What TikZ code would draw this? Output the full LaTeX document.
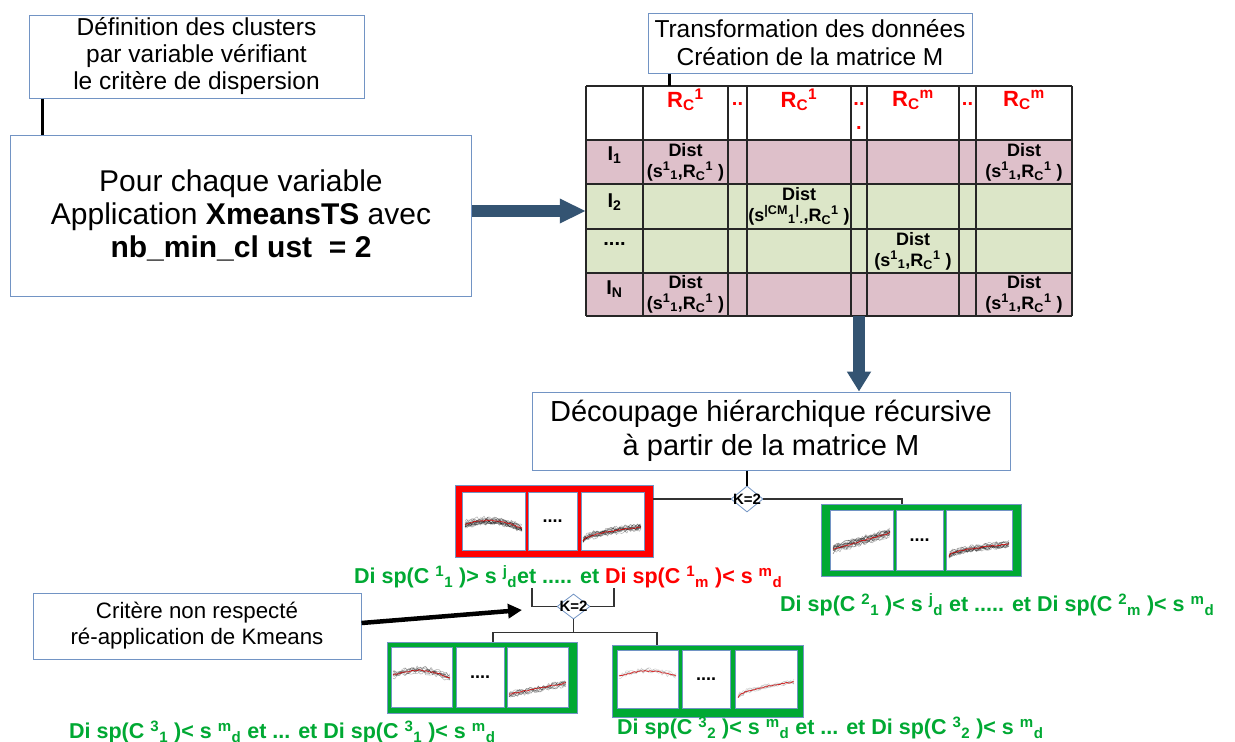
\documentclass[tikz,border=0pt]{standalone}
\usepackage{fontspec}
\setmainfont{Liberation Sans}
\usetikzlibrary{arrows.meta,shapes.geometric}

\definecolor{frameblue}{RGB}{114,148,196}
\definecolor{arrowblue}{RGB}{52,84,114}
\definecolor{rowpink}{RGB}{222,192,202}
\definecolor{rowgreen}{RGB}{220,230,200}
\definecolor{clgreen}{RGB}{0,169,51}
\definecolor{clred}{RGB}{255,0,0}

\newcommand\fs[2]{\fontsize{#1}{#2}\selectfont}
\newcommand\up[1]{\textsuperscript{#1}}
\newcommand\dn[1]{\textsubscript{#1}}

% a bundle of noisy series with its mean curve, clipped to one panel
% #1 panel, #2 left, #3 width, #4 base y, #5 profile of \x, #6 count, #7 spread, #8 trace style
\newcommand\tsbundle[8]{%
  \begin{scope}
    \clip (#1.south west) rectangle (#1.north east);
    \foreach \k in {1,...,#6}{%
      \pgfmathsetmacro\tsoff{#7*rand}%
      \draw[#8] plot[domain=0:1,samples=34] ({#2+#3*\x},{#4-(#5)+\tsoff+2*rand});
    }
    \draw[tsmean] plot[domain=0:1,samples=34] ({#2+#3*\x},{#4-(#5)+0.6*rand});
  \end{scope}}

\tikzset{
  textbox/.style={draw=frameblue, line width=1pt, fill=white, align=center, inner sep=0pt, text=black},
  link/.style={draw=black, line width=2.6pt},
  thinlink/.style={draw=black!80, line width=1.3pt},
  rightflow/.style={draw=arrowblue, line width=12pt, -{Triangle[length=26pt,width=23pt]}},
  downflow/.style={draw=arrowblue, line width=12pt, -{Triangle[length=20pt,width=23pt]}},
  blackflow/.style={draw=black, line width=4.5pt, -{Triangle[length=14pt,width=14pt]}},
  grid/.style={draw=black!85, line width=1.2pt},
  hdr/.style={font=\bfseries\fs{22}{22}, text=clred, inner sep=0pt},
  hdots/.style={font=\bfseries\fs{20}{24}, text=clred, inner sep=0pt, align=center},
  rowlbl/.style={font=\bfseries\fs{20}{20}, inner sep=0pt},
  cell/.style={font=\bfseries\fs{18}{21}, inner sep=0pt, align=center},
  kdia/.style={diamond, draw=frameblue, fill=white, line width=0.8pt, minimum width=32pt, minimum height=26pt, inner sep=0pt},
  klabel/.style={font=\bfseries\fs{15}{15}, inner sep=0pt},
  clframe/.style={draw=frameblue, line width=0.8pt, inner sep=0pt},
  panel/.style={draw=frameblue, fill=white, line width=0.8pt, inner sep=0pt, font=\bfseries\fs{18}{18}},
  crit/.style={font=\bfseries\fs{21.5}{22}, inner sep=0pt, anchor=west},
  tsline/.style={draw=black, opacity=0.3, line width=0.5pt, line join=round},
  tslight/.style={draw=black, opacity=0.17, line width=0.5pt, line join=round},
  tsmean/.style={draw=clred!85!black, opacity=0.8, line width=0.8pt, line join=round},
}

\begin{document}
\begin{tikzpicture}[x=1pt,y=-1pt]
\pgfmathsetseed{11}
\useasboundingbox[fill=white] (0,0) rectangle (1235,742);

% ---- clustering per variable
\node[textbox, minimum width=335pt, minimum height=83pt, font=\fs{24.5}{27}] (def) at (196.5,56.5)
  {Définition des clusters\\par variable vérifiant\\le critère de dispersion};
\node[textbox, minimum width=461pt, minimum height=161pt, font=\fs{30}{33}] (pour) at (241,215.5)
  {Pour chaque variable\\Application \textbf{XmeansTS} avec\\\textbf{nb\_min\_cl ust\ \ = 2}};
\coordinate (defleg) at ([xshift=14pt]def.south west);
\draw[link] (defleg) -- (defleg |- pour.north);

% ---- matrix M
\node[textbox, minimum width=324pt, minimum height=60pt, font=\fs{24.5}{28}] (trans) at (810,43)
  {Transformation des données\\Création de la matrice M};
\node[inner sep=0pt, minimum width=486pt, minimum height=230pt] (mat) at (829,201) {};
\fill[white] (586,86) rectangle (1072,140);
\fill[rowpink] (586,140) rectangle (1072,184);
\fill[rowgreen] (586,184) rectangle (1072,273);
\fill[rowpink] (586,273) rectangle (1072,316);
\foreach \cx in {586,643,728,747,851,867,959,976,1072}
  \draw[grid] (\cx,86) -- (\cx,316);
\foreach \ry in {86,140,184,229,273,316}
  \draw[grid] (586,\ry) -- (1072,\ry);
\coordinate (trleg) at ([xshift=22pt]trans.south west);
\draw[link] (trleg) -- (trleg |- mat.north);

\node[hdr] (h1) at (685.5,100) {R\dn{C}\up{1}};
\node[hdr] (h3) at (799,100) {R\dn{C}\up{1}};
\node[hdr] (h5) at (913,100) {R\dn{C}\up{m}};
\node[hdr] (h7) at (1024,100) {R\dn{C}\up{m}};
\node[hdots] (d2) at (737.5,104) {..};
\node[hdots] (d4) at (859,116) {..\\.};
\node[hdots] (d6) at (967.5,104) {..};

\node[rowlbl] (r1) at (614.5,155) {I\dn{1}};
\node[rowlbl] (r2) at (614.5,202) {I\dn{2}};
\node[rowlbl] (r3) at (614.5,244) {....};
\node[rowlbl] (r4) at (614.5,289) {I\dn{N}};

\node[cell] (c11) at (685.5,162) {Dist\\(s\up{1}\dn{1},R\dn{C}\up{1} )};
\node[cell] (c17) at (1024,162) {Dist\\(s\up{1}\dn{1},R\dn{C}\up{1} )};
\node[cell] (c23) at (799,206) {Dist\\(s\up{|CM}\dn{1}\up{|}\dn{.},R\dn{C}\up{1} )};
\node[cell] (c35) at (913,251) {Dist\\(s\up{1}\dn{1},R\dn{C}\up{1} )};
\node[cell] (c41) at (685.5,294) {Dist\\(s\up{1}\dn{1},R\dn{C}\up{1} )};
\node[cell] (c47) at (1024,294) {Dist\\(s\up{1}\dn{1},R\dn{C}\up{1} )};

\coordinate (arrA) at ([yshift=4.5pt]pour.east);
\draw[rightflow] (arrA) -- (arrA -| mat.west);

% ---- recursive splitting
\node[textbox, minimum width=478pt, minimum height=78pt, font=\fs{29}{34}] (dec) at (771,431)
  {Découpage hiérarchique récursive\\à partir de la matrice M};
\coordinate (arrB) at ([xshift=30pt]mat.south);
\draw[downflow] (arrB) -- (arrB |- dec.north);

\node[kdia] (k1) at (747,499) {};
\node[klabel] (k1l) at (k1) {K=2};
\draw[link] (k1.north |- dec.south) -- (k1.north);

% first split: red and green groups
\node[clframe, fill=clred, minimum width=198pt, minimum height=72pt] (cl1) at (554,521) {};
\node[panel, minimum width=63pt, minimum height=58pt] (cl1a) at (493.5,521) {};
\node[panel, minimum width=49pt, minimum height=58pt] (cl1b) at (552.5,521) {....};
\node[panel, minimum width=63pt, minimum height=58pt] (cl1c) at (612.5,521) {};

\node[clframe, fill=clgreen, minimum width=200pt, minimum height=72pt] (cl2) at (921,540) {};
\node[panel, minimum width=63pt, minimum height=60pt] (cl2a) at (861.5,540) {};
\node[panel, minimum width=47pt, minimum height=60pt] (cl2b) at (919.5,540) {....};
\node[panel, minimum width=66pt, minimum height=60pt] (cl2c) at (979,540) {};

\draw[thinlink] (k1.west) -- (k1.west -| cl1.east);
\coordinate (cl2top) at ([xshift=-19pt]cl2.north);
\draw[thinlink] (k1.east) -| (cl2top);

\node[crit] (t1) at (354,577) {\textcolor{clgreen}{Di sp(C \up{1}\dn{1} )> s \up{j}\dn{d}et ..... et }\textcolor{clred}{Di sp(C \up{1}\dn{m} )< s \up{m}\dn{d}}};
\node[crit, text=clgreen] (t2) at (780,605) {Di sp(C \up{2}\dn{1} )< s \up{j}\dn{d} et ..... et Di sp(C \up{2}\dn{m} )< s \up{m}\dn{d}};

% second split of the red group
\node[kdia, minimum width=33pt, minimum height=25pt] (k2) at (573.5,606.5) {};
\node[klabel] (k2l) at (k2) {K=2};
\coordinate (t1l) at (532,588);
\coordinate (t1r) at (614,588);
\draw[thinlink] (t1l) |- (k2.west);
\draw[thinlink] (t1r) |- (k2.east);

\node[textbox, minimum width=328pt, minimum height=66pt, font=\fs{22.3}{26}] (crit) at (197,626)
  {Critère non respecté\\ré-application de Kmeans};
\coordinate (crittip) at (522,610);
\draw[blackflow] ([yshift=3pt]crit.east) -- (crittip);

\node[clframe, fill=clgreen, minimum width=190pt, minimum height=71pt] (cl3) at (482,677.5) {};
\node[panel, minimum width=61pt, minimum height=60pt] (cl3a) at (421.5,677) {};
\node[panel, minimum width=48pt, minimum height=60pt] (cl3b) at (480,677) {....};
\node[panel, minimum width=61pt, minimum height=60pt] (cl3c) at (537.5,677) {};

\node[clframe, fill=clgreen, minimum width=191pt, minimum height=72pt] (cl4) at (707.5,681) {};
\node[panel, minimum width=61pt, minimum height=58pt] (cl4a) at (647.5,679) {};
\node[panel, minimum width=48pt, minimum height=58pt] (cl4b) at (706,679) {....};
\node[panel, minimum width=62pt, minimum height=58pt] (cl4c) at (766,679) {};

\coordinate (k2bus) at ([yshift=-13pt]k2.south);
\coordinate (cl3top) at (493,0 |- cl3.north);
\coordinate (cl4top) at (657,0 |- cl4.north);
\draw[thinlink] (k2.south) -- (k2bus);
\draw[thinlink] (k2bus) -| (cl3top);
\draw[thinlink] (k2bus) -| (cl4top);

\node[crit, text=clgreen] (t3) at (69,732) {Di sp(C \up{3}\dn{1} )< s \up{m}\dn{d} et ... et Di sp(C \up{3}\dn{1} )< s \up{m}\dn{d}};
\node[crit, text=clgreen] (t4) at (617,728) {Di sp(C \up{3}\dn{2} )< s \up{m}\dn{d} et ... et Di sp(C \up{3}\dn{2} )< s \up{m}\dn{d}};

% ---- series drawn inside the panels
\tsbundle{cl1a}{465}{57}{524}{5*sin(190*\x)-3*\x}{16}{3}{tsline}
\tsbundle{cl1c}{583}{58}{541}{14*sqrt(\x)}{14}{2.5}{tsline}
\tsbundle{cl2a}{833}{57}{549}{16*\x}{16}{3.5}{tsline}
\tsbundle{cl2c}{949}{60}{556}{12*sqrt(\x)}{14}{2.5}{tsline}
\tsbundle{cl3a}{393}{57}{675}{6*sin(180*\x)-3*\x}{9}{3}{tsline}
\tsbundle{cl3c}{509}{57}{694}{11*\x}{9}{2.5}{tsline}
\tsbundle{cl4a}{619}{57}{676}{5*sin(180*\x)}{4}{2}{tslight}
\tsbundle{cl4c}{738}{56}{698}{16*sqrt(\x)}{5}{2}{tslight}
\end{tikzpicture}
\end{document}
